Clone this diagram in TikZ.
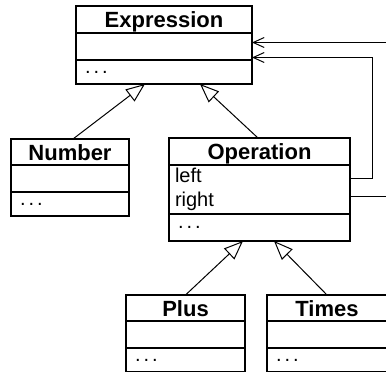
\documentclass[tikz,border=0pt]{standalone}
\usepackage{fontspec}
\setmainfont{Liberation Sans}
\usetikzlibrary{positioning,arrows.meta}

\newcommand{\more}{\hspace*{3pt}.\hspace{3pt}.\hspace{3pt}.}

\tikzset{
  classbox/.style={draw,line width=1.2pt,outer sep=0pt,inner sep=0pt},
  titlebox/.style={classbox,anchor=north west,font=\bfseries\fontsize{22}{22}\selectfont,
    text height=16pt,text depth=0pt},
  partbox/.style={classbox,below=0pt of #1,inner xsep=6pt,align=left,
    font=\fontsize{20}{24}\selectfont},
  inherit/.style={line width=1pt,-{Triangle[open,length=19pt,width=15pt,line width=1pt]}},
  assoc/.style={line width=1pt,-{Straight Barb[length=11pt,width=10pt,line width=1pt]}}
}

\begin{document}
\begin{tikzpicture}[x=1pt,y=-1pt]
  \useasboundingbox (0,0) rectangle (386,372);
  \clip (0,0) rectangle (386,372);

  % Expression
  \node[titlebox,minimum width=176pt,minimum height=27pt] (expr) at (76,6) {Expression};
  \node[partbox=expr,minimum width=176pt,minimum height=27pt] (exprattr) {};
  \node[partbox=exprattr,text width=164pt,minimum height=24pt] (exprmeth) {\more};

  % Number
  \node[titlebox,minimum width=118pt,minimum height=26pt] (num) at (11,139) {Number};
  \node[partbox=num,minimum width=118pt,minimum height=27pt] (numattr) {};
  \node[partbox=numattr,text width=106pt,minimum height=24pt] (nummeth) {\more};

  % Operation
  \node[titlebox,minimum width=181pt,minimum height=27pt] (op) at (169,138) {Operation};
  \node[partbox=op,text width=169pt,minimum height=49pt] (opattr) {left\\right};
  \node[partbox=opattr,text width=169pt,minimum height=27pt] (opmeth) {\more};

  % Plus and Times
  \node[titlebox,minimum width=119pt,minimum height=26pt] (plus) at (126,295) {Plus};
  \node[partbox=plus,minimum width=119pt,minimum height=27pt] (plusattr) {};
  \node[partbox=plusattr,text width=107pt,minimum height=24pt] (plusmeth) {\more};

  \node[titlebox,minimum width=120pt,minimum height=26pt] (times) at (267,295) {Times};
  \node[partbox=times,minimum width=120pt,minimum height=27pt] (timesattr) {};
  \node[partbox=timesattr,text width=108pt,minimum height=24pt] (timesmeth) {\more};

  % generalisation
  \draw[inherit] ([xshift=3pt]num.north) -- ([xshift=-19pt]exprmeth.south);
  \draw[inherit] ([xshift=-1.5pt]op.north) -- ([xshift=36pt]exprmeth.south);
  \draw[inherit] (plus.north) -- ([xshift=-16.5pt]opmeth.south);
  \draw[inherit] (times.north) -- ([xshift=14.5pt]opmeth.south);

  % left and right refer back to Expression
  \draw[assoc] ([yshift=11.5pt]opattr.east) -| ([xshift=120pt,yshift=-11pt]exprattr.east)
    -- ([yshift=-11pt]exprattr.east);
  \draw[assoc] ([yshift=-6.5pt]opattr.east) -| ([xshift=140pt,yshift=4pt]exprattr.east)
    -- ([yshift=4pt]exprattr.east);
\end{tikzpicture}
\end{document}
